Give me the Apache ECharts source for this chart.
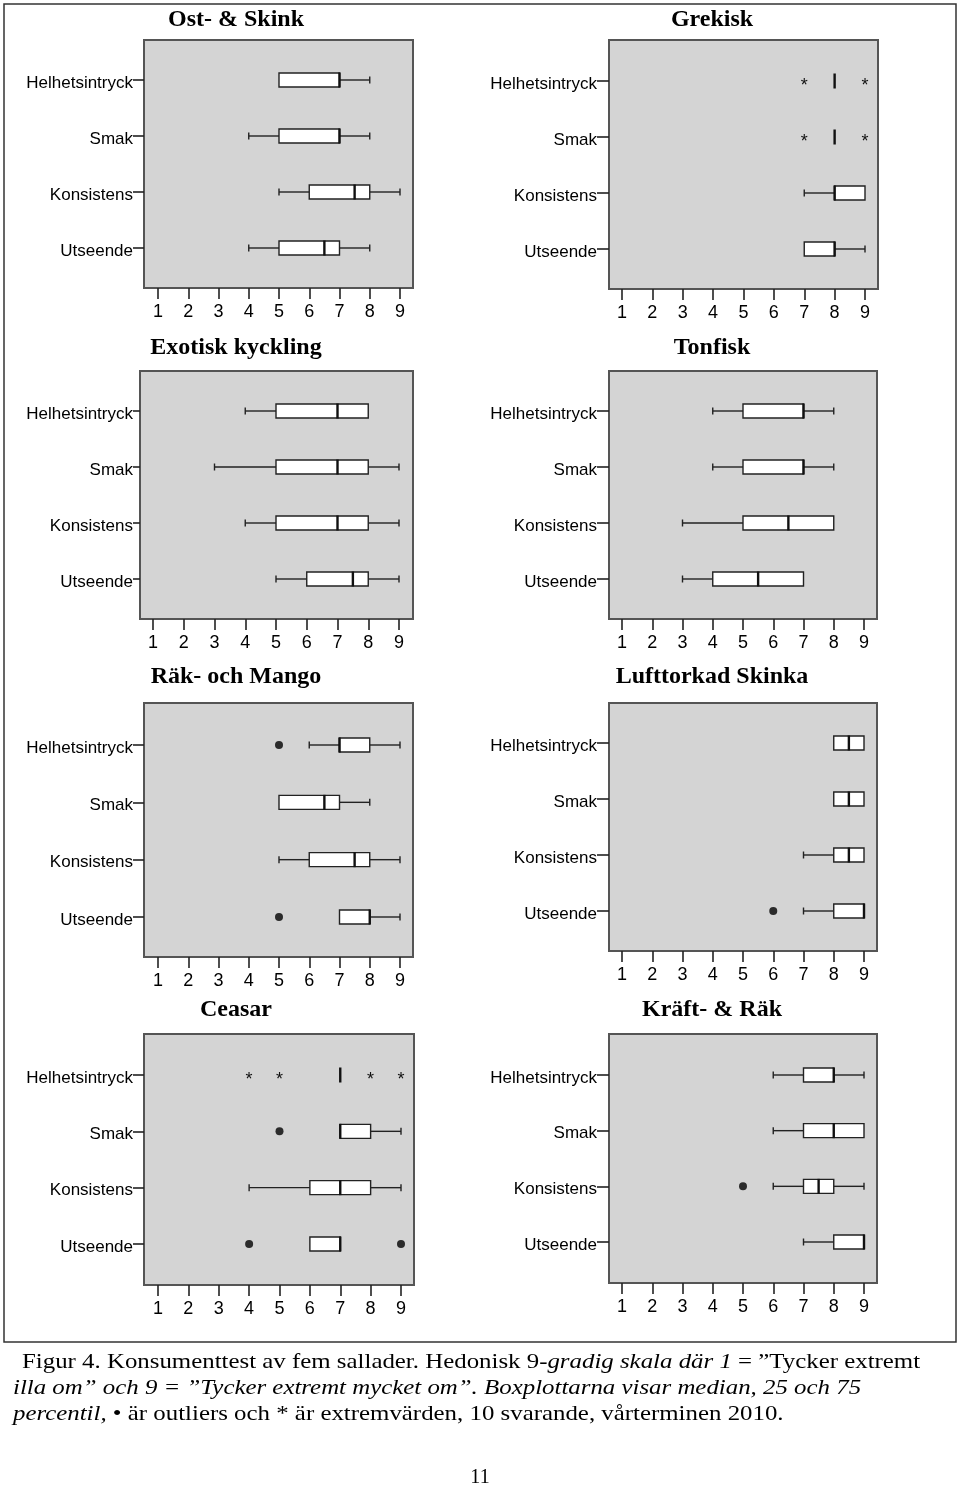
<!DOCTYPE html>
<html>
<head>
<meta charset="utf-8">
<script src="https://cdn.jsdelivr.net/npm/echarts@6/dist/echarts.min.js"></script>
<style>
html,body{margin:0;padding:0;background:#fff;}
#chart{width:960px;height:1487px;}
</style>
</head>
<body>
<div id="chart"></div>
<script>
// ---------------- DATA ----------------
const categories = ['Helhetsintryck', 'Smak', 'Konsistens', 'Utseende'];
const xTickValues = [1, 2, 3, 4, 5, 6, 7, 8, 9];
const panelTitles = ['Ost- & Skink', 'Grekisk', 'Exotisk kyckling', 'Tonfisk',
                     'Räk- och Mango', 'Lufttorkad Skinka', 'Ceasar', 'Kräft- & Räk'];

// [min, Q1, median, Q3, max] per category (order as in categories)
const ostSkinkBoxes   = [[5, 5, 7, 7, 8], [4, 5, 7, 7, 8], [5, 6, 7.5, 8, 9], [4, 5, 6.5, 7, 8]];
const grekiskBoxes    = [[8, 8, 8, 8, 8], [8, 8, 8, 8, 8], [7, 8, 8, 9, 9], [7, 7, 8, 8, 9]];
const exotiskBoxes    = [[4, 5, 7, 8, 8], [3, 5, 7, 8, 9], [4, 5, 7, 8, 9], [5, 6, 7.5, 8, 9]];
const tonfiskBoxes    = [[4, 5, 7, 7, 8], [4, 5, 7, 7, 8], [3, 5, 6.5, 8, 8], [3, 4, 5.5, 7, 7]];
const rakMangoBoxes   = [[6, 7, 7, 8, 9], [5, 5, 6.5, 7, 8], [5, 6, 7.5, 8, 9], [7, 7, 8, 8, 9]];
const lufttorkadBoxes = [[8, 8, 8.5, 9, 9], [8, 8, 8.5, 9, 9], [7, 8, 8.5, 9, 9], [7, 8, 9, 9, 9]];
const ceasarBoxes     = [[7, 7, 7, 7, 7], [7, 7, 7, 8, 9], [4, 6, 7, 8, 9], [6, 6, 7, 7, 7]];
const kraftRakBoxes   = [[6, 7, 8, 8, 9], [6, 7, 8, 9, 9], [6, 7, 7.5, 8, 9], [7, 8, 9, 9, 9]];

// outliers (•) and extreme values (*): [category, value]
const ostSkinkOutliers = [];
const ostSkinkExtremes = [];
const grekiskOutliers = [];
const grekiskExtremes = [['Helhetsintryck', 7], ['Helhetsintryck', 9], ['Smak', 7], ['Smak', 9]];
const exotiskOutliers = [];
const exotiskExtremes = [];
const tonfiskOutliers = [];
const tonfiskExtremes = [];
const rakMangoOutliers = [['Helhetsintryck', 5], ['Utseende', 5]];
const rakMangoExtremes = [];
const lufttorkadOutliers = [['Utseende', 6]];
const lufttorkadExtremes = [];
const ceasarOutliers = [['Smak', 5], ['Utseende', 4], ['Utseende', 9]];
const ceasarExtremes = [['Helhetsintryck', 4], ['Helhetsintryck', 5], ['Helhetsintryck', 8], ['Helhetsintryck', 9]];
const kraftRakOutliers = [['Konsistens', 5]];
const kraftRakExtremes = [];

const captionLines = [
  [['n', 'Figur 4. Konsumenttest av fem sallader. Hedonisk 9-'], ['i', 'gradig skala där 1'], ['n', ' = ”Tycker extremt']],
  [['i', 'illa om” och 9 = ”Tycker extremt mycket om”. Boxplottarna visar median, 25 och 75']],
  [['i', 'percentil,'], ['n', ' • är outliers och * är extremvärden, 10 svarande, vårterminen 2010.']]
];
const pageNumber = '11';

// ---------------- LAYOUT ----------------
const panelData = [
  [ostSkinkBoxes, ostSkinkOutliers, ostSkinkExtremes],
  [grekiskBoxes, grekiskOutliers, grekiskExtremes],
  [exotiskBoxes, exotiskOutliers, exotiskExtremes],
  [tonfiskBoxes, tonfiskOutliers, tonfiskExtremes],
  [rakMangoBoxes, rakMangoOutliers, rakMangoExtremes],
  [lufttorkadBoxes, lufttorkadOutliers, lufttorkadExtremes],
  [ceasarBoxes, ceasarOutliers, ceasarExtremes],
  [kraftRakBoxes, kraftRakOutliers, kraftRakExtremes]
];
// pixel geometry of each panel: plot box, tick 1 / tick 9, first / last category, label right edge, title
const layout = [
  {l: 144, r: 413, t: 40,   b: 288,  x1: 158, x9: 400, c1: 80,   c4: 248,  lr: 133, tx: 236, ty: 27},
  {l: 609, r: 878, t: 40,   b: 289,  x1: 622, x9: 865, c1: 81,   c4: 249,  lr: 597, tx: 712, ty: 27},
  {l: 140, r: 413, t: 371,  b: 619,  x1: 153, x9: 399, c1: 411,  c4: 579,  lr: 133, tx: 236, ty: 355},
  {l: 609, r: 877, t: 371,  b: 619,  x1: 622, x9: 864, c1: 411,  c4: 579,  lr: 597, tx: 712, ty: 355},
  {l: 144, r: 413, t: 703,  b: 957,  x1: 158, x9: 400, c1: 745,  c4: 917,  lr: 133, tx: 236, ty: 684},
  {l: 609, r: 877, t: 703,  b: 951,  x1: 622, x9: 864, c1: 743,  c4: 911,  lr: 597, tx: 712, ty: 684},
  {l: 144, r: 414, t: 1034, b: 1285, x1: 158, x9: 401, c1: 1075, c4: 1244, lr: 133, tx: 236, ty: 1017},
  {l: 609, r: 877, t: 1034, b: 1283, x1: 622, x9: 864, c1: 1075, c4: 1242, lr: 597, tx: 712, ty: 1017}
];

const SANS = '"Liberation Sans", Arial, sans-serif';
const SERIF = '"Liberation Serif", "Times New Roman", serif';
const INK = '#222';

function renderBox(params, api) {
  const c = api.value(0);
  const xs = [1, 2, 3, 4, 5].map(d => api.coord([api.value(d), c])[0]);
  const y = api.coord([api.value(1), c])[1];
  const h = 14, cap = 7;
  const ls = {stroke: INK, lineWidth: 1.4};
  const ch = [];
  if (xs[1] - xs[0] > 0.5) {
    ch.push({type: 'line', shape: {x1: xs[0], y1: y, x2: xs[1], y2: y}, style: ls});
    ch.push({type: 'line', shape: {x1: xs[0], y1: y - cap / 2, x2: xs[0], y2: y + cap / 2}, style: ls});
  }
  if (xs[4] - xs[3] > 0.5) {
    ch.push({type: 'line', shape: {x1: xs[3], y1: y, x2: xs[4], y2: y}, style: ls});
    ch.push({type: 'line', shape: {x1: xs[4], y1: y - cap / 2, x2: xs[4], y2: y + cap / 2}, style: ls});
  }
  if (xs[3] - xs[1] > 0.5) {
    ch.push({type: 'rect', shape: {x: xs[1], y: y - h / 2, width: xs[3] - xs[1], height: h},
             style: {fill: '#fff', stroke: INK, lineWidth: 1.4}});
  }
  ch.push({type: 'line', shape: {x1: xs[2], y1: y - h / 2 - 0.5, x2: xs[2], y2: y + h / 2 + 0.5},
           style: {stroke: '#111', lineWidth: 2.4}});
  return {type: 'group', children: ch};
}

function renderStar(params, api) {
  const p = api.coord([api.value(0), api.value(1)]);
  return {type: 'text', x: p[0], y: p[1] + 5,
          style: {text: '*', font: '18px ' + SANS, fill: '#111', align: 'center', verticalAlign: 'middle'}};
}

const grids = [], xAxes = [], yAxes = [], series = [], graphics = [];

layout.forEach((L, i) => {
  const [boxes, outliers, extremes] = panelData[i];
  const ux = (L.x9 - L.x1) / 8;
  const uy = (L.c4 - L.c1) / 3;
  const yTick = L.l - L.lr;
  grids.push({left: L.l, top: L.t, width: L.r - L.l, height: L.b - L.t, show: true,
              backgroundColor: '#d4d4d4', borderColor: '#555', borderWidth: 2,
              containLabel: false, outerBoundsMode: 'none'});
  xAxes.push({gridIndex: i, type: 'value',
              min: 1 - (L.x1 - L.l) / ux, max: 9 + (L.r - L.x9) / ux,
              axisLine: {show: false}, splitLine: {show: false},
              axisTick: {show: true, customValues: xTickValues, length: 11, lineStyle: {color: INK, width: 1.6}},
              axisLabel: {customValues: xTickValues, margin: 15, fontSize: 18, color: '#000', fontFamily: SANS}});
  yAxes.push({gridIndex: i, type: 'value', inverse: true,
              min: 1 - (L.c1 - L.t) / uy, max: 4 + (L.b - L.c4) / uy,
              axisLine: {show: false}, splitLine: {show: false},
              axisTick: {show: true, customValues: [1, 2, 3, 4], length: yTick, lineStyle: {color: INK, width: 1.6}},
              axisLabel: {customValues: [1, 2, 3, 4],
                          formatter: v => '{c|' + categories[Math.round(v) - 1] + '}',
                          margin: yTick, color: '#000',
                          rich: {c: {fontSize: 17, fontFamily: SANS, color: '#000',
                                     lineHeight: 17, padding: [6, 0, 0, 0]}}}});
  series.push({type: 'custom', xAxisIndex: i, yAxisIndex: i, silent: true, z: 3,
               data: boxes.map((b, k) => [k + 1].concat(b)),
               encode: {x: [1, 2, 3, 4, 5], y: 0},
               renderItem: renderBox});
  series.push({type: 'scatter', xAxisIndex: i, yAxisIndex: i, silent: true, z: 4,
               symbol: 'circle', symbolSize: 8, itemStyle: {color: '#000'},
               data: outliers.map(([c, v]) => [v, categories.indexOf(c) + 1])});
  series.push({type: 'custom', xAxisIndex: i, yAxisIndex: i, silent: true, z: 4,
               data: extremes.map(([c, v]) => [v, categories.indexOf(c) + 1]),
               encode: {x: 0, y: 1},
               renderItem: renderStar});
  graphics.push({type: 'text', x: L.tx, y: L.ty - 7, z: 10,
                 style: {text: panelTitles[i], font: 'bold 24px ' + SERIF, fill: '#000',
                         align: 'center', verticalAlign: 'middle'}});
});

// outer frame
graphics.push({type: 'rect', shape: {x: 4, y: 4, width: 952, height: 1338}, z: 0,
               style: {fill: null, stroke: '#333', lineWidth: 1.5}});

// caption (the original text is horizontally stretched)
const captionX = [22, 13, 13];
const captionBase = [1369, 1395, 1421];
captionLines.forEach((parts, li) => {
  graphics.push({type: 'text', x: captionX[li], y: captionBase[li] - 7, z: 10,
                 scaleX: 1.13, originX: 0, originY: 0,
                 style: {text: parts.map(([s, t]) => '{' + s + '|' + t + '}').join(''),
                         align: 'left', verticalAlign: 'middle',
                         rich: {n: {fontFamily: SERIF, fontSize: 22, fill: '#000', color: '#000'},
                                i: {fontFamily: SERIF, fontSize: 22, fontStyle: 'italic', fill: '#000', color: '#000'}}}});
});
graphics.push({type: 'text', x: 480, y: 1478, z: 10,
               style: {text: pageNumber, font: '20px ' + SERIF, fill: '#000', align: 'center', verticalAlign: 'middle'}});

const chart = echarts.init(document.getElementById('chart'), null, {renderer: 'canvas'});
chart.setOption({
  animation: false,
  backgroundColor: '#fff',
  grid: grids,
  xAxis: xAxes,
  yAxis: yAxes,
  series: series,
  graphic: graphics
});
</script>
</body>
</html>
